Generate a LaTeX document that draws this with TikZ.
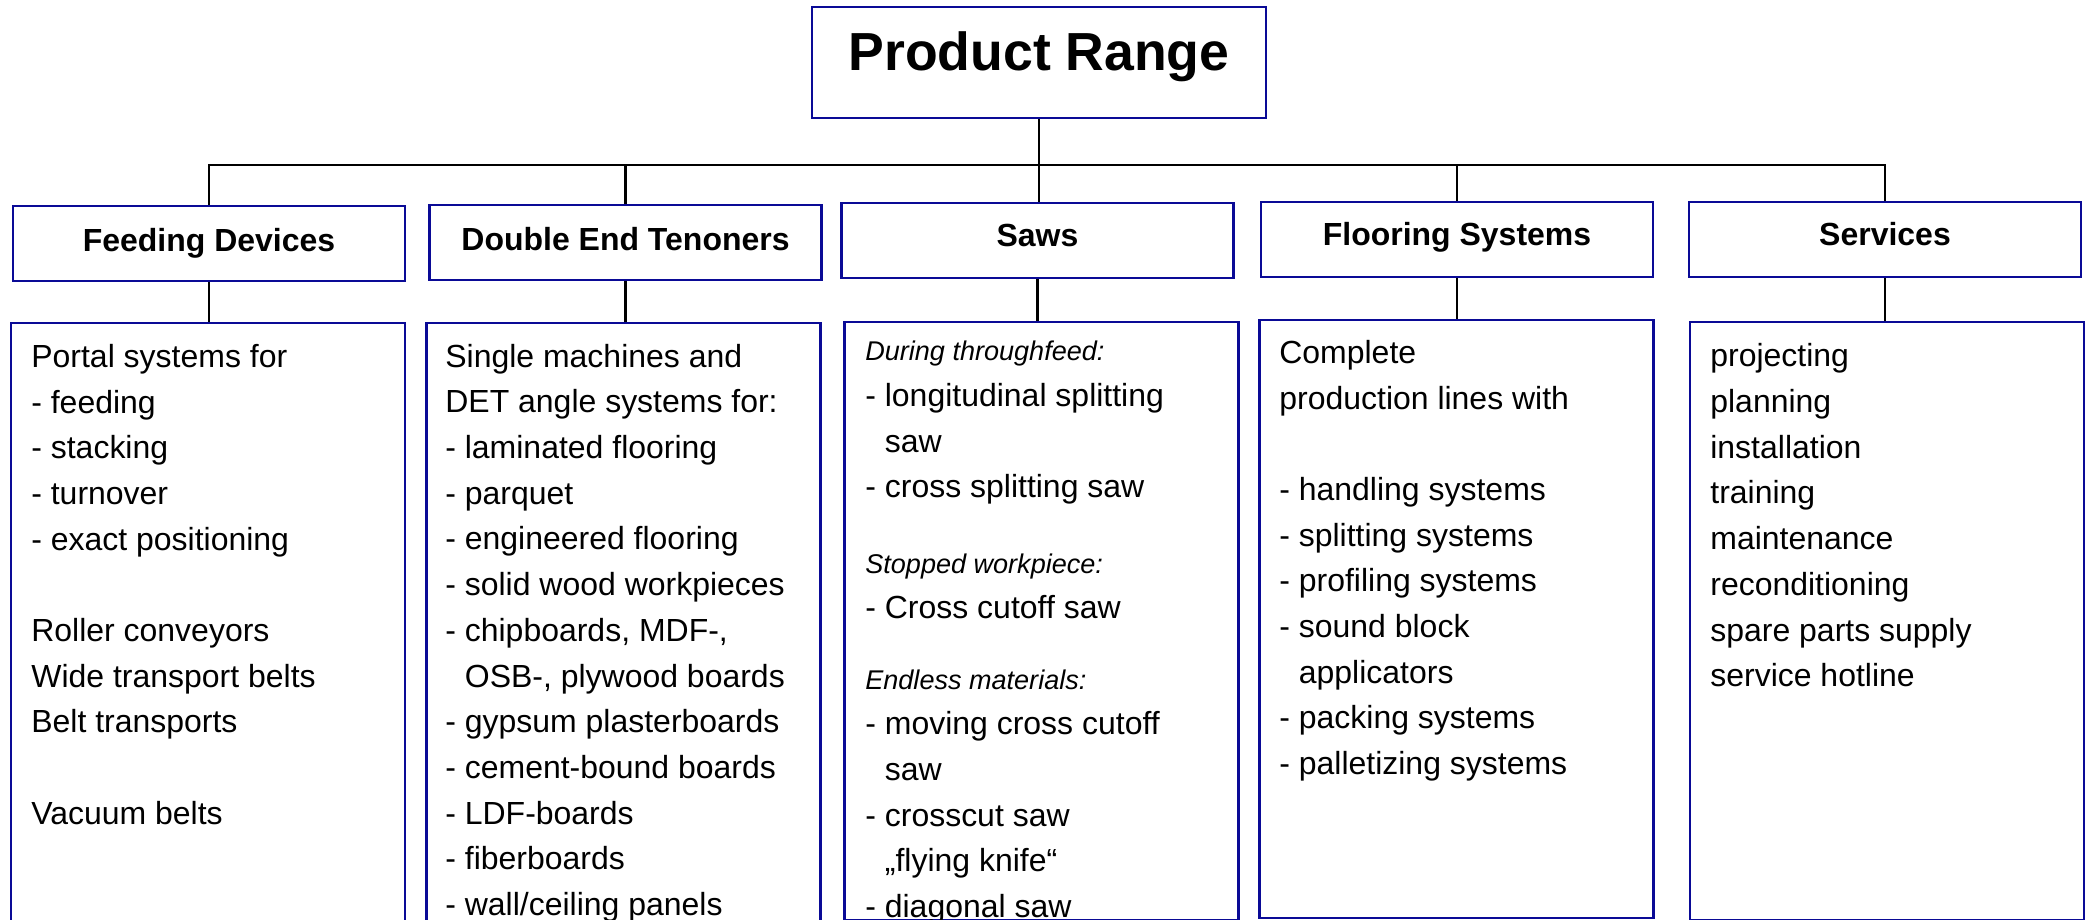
\documentclass[tikz,border=0pt]{standalone}
\usepackage{fontspec}
\setmainfont{Liberation Sans}
\usetikzlibrary{positioning}
\definecolor{boxblue}{RGB}{10,10,150}
\newcommand{\sawhead}[1]{{\fontsize{15.4}{26}\selectfont\itshape #1}}
\newcommand{\ind}{\hphantom{-\ }}
\tikzset{
  title/.style={draw=boxblue, line width=1.3pt, inner sep=0pt,
    minimum width=9.08cm, minimum height=2.22cm,
    font=\fontsize{30.5}{36}\selectfont\bfseries, text height=22.3pt, text depth=12.8pt},
  head/.style={draw=boxblue, line width=1.3pt, inner sep=0pt,
    minimum width=7.84cm, minimum height=1.5cm,
    font=\fontsize{18.2}{22}\selectfont\bfseries, text height=13.3pt, text depth=6.9pt},
  panel/.style={draw=boxblue, line width=1.3pt, inner sep=0pt, anchor=north,
    minimum width=7.88cm, minimum height=11.96cm},
  items/.style={anchor=north west, inner sep=0pt, align=left,
    font=\fontsize{18.2}{26}\selectfont, execute at begin node={\rule{0pt}{14pt}}},
  link/.style={line width=1.3pt}
}
\begin{document}
\begin{tikzpicture}[x=0.02cm,y=-0.02cm]
  \useasboundingbox (0,0) rectangle (2087,920);
  \node[title] (prod) at (1039,62.5) {Product Range};
  % second row
  \node[head, text depth=3.9pt] (feed) at (209,243.5) {Feeding Devices};
  \node[head, text depth=3.9pt] (det) at (625.5,242.5) {Double End Tenoners};
  \node[head] (saws) at (1037.5,240.5) {Saws};
  \node[head] (floor) at (1457,239.5) {Flooring Systems};
  \node[head] (serv) at (1885,239.5) {Services};
  % lists
  \node[panel] (feedpanel) at (208,322) {};
  \node[panel, minimum height=12.2cm] (detpanel) at (623.5,322) {};
  \node[panel] (sawspanel) at (1041.5,321) {};
  \node[panel] (floorpanel) at (1456.5,319) {};
  \node[panel] (servpanel) at (1887,321) {};
  \node[items] (feedlist) at (31,344) {Portal systems for\\
    - feeding\\
    - stacking\\
    - turnover\\
    - exact positioning\\[26pt]
    Roller conveyors\\
    Wide transport belts\\
    Belt transports\\[26pt]
    Vacuum belts};
  \node[items] (detlist) at (445,343.7) {Single machines and\\
    DET angle systems for:\\
    - laminated flooring\\
    - parquet\\
    - engineered flooring\\
    - solid wood workpieces\\
    - chipboards, MDF-,\\
    \ind OSB-, plywood boards\\
    - gypsum plasterboards\\
    - cement-bound boards\\
    - LDF-boards\\
    - fiberboards\\
    - wall/ceiling panels};
  \node[items] (sawslist) at (865,340.7) {\sawhead{During throughfeed:}\\
    - longitudinal splitting\\
    \ind saw\\
    - cross splitting saw\\[17pt]
    \sawhead{Stopped workpiece:}\\
    - Cross cutoff saw\\[14pt]
    \sawhead{Endless materials:}\\
    - moving cross cutoff\\
    \ind saw\\
    - crosscut saw\\
    \ind „flying knife“\\
    - diagonal saw};
  \node[items] (floorlist) at (1279,340) {Complete\\
    production lines with\\[26pt]
    - handling systems\\
    - splitting systems\\
    - profiling systems\\
    - sound block\\
    \ind applicators\\
    - packing systems\\
    - palletizing systems};
  \node[items] (servlist) at (1710,343.4) {projecting\\
    planning\\
    installation\\
    training\\
    maintenance\\
    reconditioning\\
    spare parts supply\\
    service hotline};
  \coordinate (bus) at (0,165);
  \begin{scope}[link]
    \draw (feed.north) |- (serv.north |- bus) -- (serv.north);
    \draw (prod.south) -- (prod.south |- saws.north);
    \draw (det.north) -- (det.north |- bus);
    \draw (floor.north) -- (floor.north |- bus);
    \draw (feed.south) -- (feed.south |- feedpanel.north);
    \draw (det.south) -- (det.south |- detpanel.north);
    \draw (saws.south) -- (saws.south |- sawspanel.north);
    \draw (floor.south) -- (floor.south |- floorpanel.north);
    \draw (serv.south) -- (serv.south |- servpanel.north);
  \end{scope}
\end{tikzpicture}
\end{document}
